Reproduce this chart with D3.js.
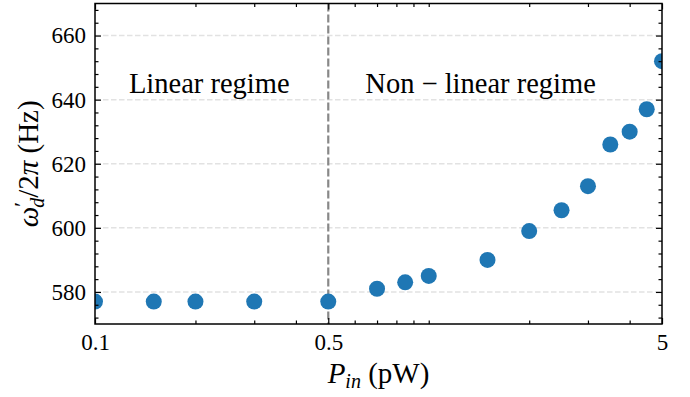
<!DOCTYPE html>
<html>
<head>
<meta charset="utf-8">
<script src="https://cdn.jsdelivr.net/npm/d3@7"></script>
<style>
  body { margin: 0; background: #fff; }
  svg text { font-family: "Liberation Serif", "DejaVu Serif", serif; fill: #000; }
</style>
</head>
<body>
<svg id="chart" width="690" height="397"></svg>
<script>
// input power (pW) and measured drive frequency (Hz)
const power = [0.1, 0.15, 0.2, 0.3, 0.5, 0.7, 0.85, 1.0, 1.5, 2.0, 2.5, 3.0, 3.5, 4.0, 4.5, 5.0];
const freq = [577, 577, 577, 577, 577, 581, 583, 585, 590, 599, 605.5, 613, 626, 630, 637, 652];

const xTickValues = [0.1, 0.5, 5];
const xMinorValues = [0.2, 0.3, 0.4, 0.6, 0.7, 0.8, 0.9, 1, 2, 3, 4];
const yTickValues = [580, 600, 620, 640, 660];
const yMinorValues = [572, 576, 584, 588, 592, 596, 604, 608, 612, 616, 624, 628, 632, 636, 644, 648, 652, 656, 664, 668];

const regimeNames = ["Linear regime", "Non \u2212 linear regime"];
const regimeX = [0.22, 1.43];
const regimeY = 642;
const boundary = 0.5;

const serif = '"Liberation Serif", "DejaVu Serif", serif';

const svg = d3.select("#chart");
const margin = {top: 3.5, right: 28, bottom: 73, left: 95};
const width = 690 - margin.left - margin.right;
const height = 397 - margin.top - margin.bottom;

const g = svg.append("g")
  .attr("transform", "translate(" + margin.left + "," + margin.top + ")");

const x = d3.scaleLog().domain([0.1, 5]).range([0, width]);
const y = d3.scaleLinear().domain([570, 670]).range([height, 0]);

g.append("clipPath").attr("id", "plot-clip")
  .append("rect").attr("width", width).attr("height", height);

// horizontal grid
g.append("g")
  .selectAll("line")
  .data(yTickValues)
  .enter()
  .append("line")
  .attr("x1", 0).attr("x2", width)
  .attr("y1", d => y(d)).attr("y2", d => y(d))
  .attr("stroke", "#e2e2e2")
  .attr("stroke-width", 1.5)
  .attr("stroke-dasharray", "5.5,2.5");

// regime boundary
g.append("line")
  .attr("x1", x(boundary)).attr("x2", x(boundary))
  .attr("y1", 0).attr("y2", height)
  .attr("stroke", "#888")
  .attr("stroke-width", 2.2)
  .attr("stroke-dasharray", "8,3");

// annotations
g.selectAll(".regime")
  .data(regimeNames)
  .enter()
  .append("text")
  .attr("class", "regime")
  .attr("x", (d, i) => x(regimeX[i]))
  .attr("y", y(regimeY))
  .attr("text-anchor", "middle")
  .style("font-family", serif)
  .style("font-size", "28.5px")
  .text(d => d);

// points
g.append("g")
  .attr("clip-path", "url(#plot-clip)")
  .selectAll("circle")
  .data(power)
  .enter()
  .append("circle")
  .attr("cx", d => x(d))
  .attr("cy", (d, i) => y(freq[i]))
  .attr("r", 8)
  .attr("fill", "#1f77b4");

// axes, ticks pointing inward on all four sides
const fmt = d => String(d);
function styleAxis(sel) {
  sel.attr("font-family", serif).attr("font-size", 23);
  sel.select(".domain").remove();
  sel.selectAll("line").attr("stroke", "#000").attr("stroke-width", 1.2);
  sel.selectAll("text").style("font-family", serif).style("font-size", "23px");
}

g.append("g")
  .attr("transform", "translate(0," + height + ")")
  .call(d3.axisBottom(x).tickValues(xTickValues).tickFormat(fmt).tickSizeInner(-6).tickSizeOuter(0).tickPadding(10))
  .call(styleAxis);
g.append("g")
  .attr("transform", "translate(0," + height + ")")
  .call(d3.axisBottom(x).tickValues(xMinorValues).tickFormat("").tickSizeInner(-3.5).tickSizeOuter(0))
  .call(styleAxis);
g.append("g")
  .call(d3.axisTop(x).tickValues(xTickValues).tickFormat("").tickSizeInner(-6).tickSizeOuter(0))
  .call(styleAxis);
g.append("g")
  .call(d3.axisTop(x).tickValues(xMinorValues).tickFormat("").tickSizeInner(-3.5).tickSizeOuter(0))
  .call(styleAxis);

g.append("g")
  .call(d3.axisLeft(y).tickValues(yTickValues).tickFormat(fmt).tickSizeInner(-6).tickSizeOuter(0).tickPadding(9))
  .call(styleAxis);
g.append("g")
  .call(d3.axisLeft(y).tickValues(yMinorValues).tickFormat("").tickSizeInner(-3.5).tickSizeOuter(0))
  .call(styleAxis);
g.append("g")
  .attr("transform", "translate(" + width + ",0)")
  .call(d3.axisRight(y).tickValues(yTickValues).tickFormat("").tickSizeInner(-6).tickSizeOuter(0))
  .call(styleAxis);
g.append("g")
  .attr("transform", "translate(" + width + ",0)")
  .call(d3.axisRight(y).tickValues(yMinorValues).tickFormat("").tickSizeInner(-3.5).tickSizeOuter(0))
  .call(styleAxis);

// frame
g.append("rect")
  .attr("width", width).attr("height", height)
  .attr("fill", "none").attr("stroke", "#000").attr("stroke-width", 1.5);

// x label: P_in (pW)
const xl = svg.append("text")
  .attr("x", margin.left + width / 2)
  .attr("y", 383)
  .attr("text-anchor", "middle")
  .style("font-family", serif)
  .style("font-size", "29px");
xl.append("tspan").style("font-style", "italic").text("P");
xl.append("tspan").style("font-style", "italic").style("font-size", "20px").attr("dy", 5).text("in");
xl.append("tspan").attr("dy", -5).text(" (pW)");

// y label: omega'_d / 2 pi (Hz)
const yl = svg.append("text")
  .attr("transform", "translate(38," + (margin.top + height / 2) + ") rotate(-90)")
  .attr("text-anchor", "middle")
  .style("font-family", serif)
  .style("font-size", "29px");
yl.append("tspan").style("font-style", "italic").text("\u03c9");
yl.append("tspan").style("font-size", "22px").attr("dy", -9).text("\u2032");
yl.append("tspan").style("font-style", "italic").style("font-size", "20px").attr("dx", -6).attr("dy", 15).text("d");
yl.append("tspan").attr("dy", -6).text("/2");
yl.append("tspan").style("font-style", "italic").text("\u03c0");
yl.append("tspan").text(" (Hz)");
</script>
</body>
</html>
